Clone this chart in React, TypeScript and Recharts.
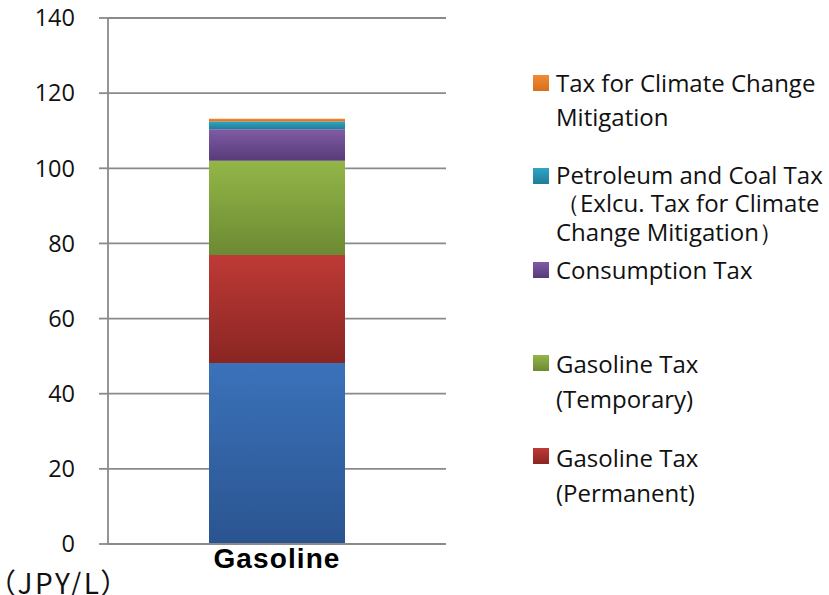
import React from 'react';
import { BarChart, Bar, XAxis, YAxis, CartesianGrid, Legend } from 'recharts';

const categories = ['Gasoline'];
const basePrice = [48.2];
const gasolinePermanent = [28.7];
const gasolineTemporary = [25.1];
const consumptionTax = [8.4];
const petroleumCoalTax = [2.04];
const climateTax = [0.76];
const yTicks = [0, 20, 40, 60, 80, 100, 120, 140];
const unitLabel = '（JPY/L）';

const series = [
  { key: 'base', name: 'Price excl. Tax', values: basePrice, top: '#3B72BA', bottom: '#2A5490', legend: null as string[] | null },
  { key: 'perm', name: 'Gasoline Tax (Permanent)', values: gasolinePermanent, top: '#BE3A36', bottom: '#8A2522', legend: ['Gasoline Tax', '(Permanent)'] },
  { key: 'temp', name: 'Gasoline Tax (Temporary)', values: gasolineTemporary, top: '#93B648', bottom: '#6C8A33', legend: ['Gasoline Tax', '(Temporary)'] },
  { key: 'cons', name: 'Consumption Tax', values: consumptionTax, top: '#7F5BA5', bottom: '#573B78', legend: ['Consumption Tax'] },
  { key: 'petr', name: 'Petroleum and Coal Tax（Exlcu. Tax for Climate Change Mitigation）', values: petroleumCoalTax, top: '#2FA5C6', bottom: '#217C96', legend: ['Petroleum and Coal Tax', '（Exlcu. Tax for Climate', 'Change Mitigation）'] },
  { key: 'clim', name: 'Tax for Climate Change Mitigation', values: climateTax, top: '#F38B35', bottom: '#D5701C', legend: ['Tax for Climate Change', 'Mitigation'] },
];

const data = categories.map((c, i) => {
  const row: Record<string, any> = { name: c };
  series.forEach((s) => { row[s.key] = s.values[i]; });
  return row;
});

// legend layout (style only): order top-to-bottom, swatch top, first line center, line height
const legendOrder = ['clim', 'petr', 'cons', 'temp', 'perm'];
const legendPos: Record<string, { sw: number; c: number; lh: number }> = {
  clim: { sw: 75, c: 83, lh: 34 },
  petr: { sw: 168, c: 175, lh: 28.5 },
  cons: { sw: 262, c: 270, lh: 30 },
  temp: { sw: 355, c: 363, lh: 35 },
  perm: { sw: 448, c: 457, lh: 35 },
};

const GRID = '#8a8a8a';
const FONT = '"Open Sans", "Noto Sans", sans-serif';

const LegendContent = () => (
  <div style={{ position: 'relative', width: 0, height: 0 }}>
    {legendOrder.map((k) => {
      const s = series.find((x) => x.key === k)!;
      const p = legendPos[k];
      return (
        <React.Fragment key={k}>
          <div
            style={{
              position: 'absolute', left: 533, top: p.sw, width: 16, height: 16,
              background: `linear-gradient(${s.top}, ${s.bottom})`,
            }}
          />
          <div
            style={{
              position: 'absolute', left: 556, top: p.c - p.lh / 2, whiteSpace: 'nowrap',
              fontFamily: FONT, fontSize: 24, lineHeight: `${p.lh}px`, color: '#111',
            }}
          >
            {(s.legend || []).map((l, i) => (<div key={i}>{l}</div>))}
          </div>
        </React.Fragment>
      );
    })}
    <div
      style={{
        position: 'absolute', left: 1, top: 570, whiteSpace: 'nowrap',
        fontFamily: '"Noto Sans CJK JP", sans-serif', fontSize: 28, lineHeight: '24px',
        letterSpacing: 2.5, fontFeatureSettings: '"palt"', color: '#111',
      }}
    >
      {unitLabel}
    </div>
  </div>
);

const XTick = (props: any) => {
  const { x, y, payload } = props;
  return (
    <text x={x} y={y + 24} textAnchor="middle" fontFamily='"Liberation Sans", Arial, sans-serif'
      fontWeight="bold" fontSize={28} letterSpacing={1.1} fill="#000">
      {payload.value}
    </text>
  );
};

export default function App() {
  return (
    <div style={{ position: 'absolute', left: 0, top: 0, width: 829, height: 595, background: '#fff', overflow: 'hidden' }}>
      <BarChart width={829} height={595} data={data} margin={{ top: 18, right: 383, bottom: 0, left: 0 }}>
        <defs>
          {series.map((s) => (
            <linearGradient key={s.key} id={`g-${s.key}`} x1="0" y1="0" x2="0" y2="1">
              <stop offset="0%" stopColor={s.top} />
              <stop offset="100%" stopColor={s.bottom} />
            </linearGradient>
          ))}
        </defs>
        <CartesianGrid vertical={false} stroke={GRID} strokeWidth={1.8} />
        <XAxis dataKey="name" height={51} tickLine={false} axisLine={{ stroke: GRID, strokeWidth: 1.8 }}
          tickSize={0} tickMargin={0} tick={<XTick />} interval={0} />
        <YAxis width={108} domain={[0, 140]} ticks={yTicks} interval={0}
          axisLine={{ stroke: GRID, strokeWidth: 1.8 }} tickLine={{ stroke: GRID, strokeWidth: 1.8 }}
          tickSize={9} tickMargin={24}
          tick={{ fontFamily: FONT, fontSize: 23.5, fill: '#111' }} />
        <Legend content={<LegendContent />}
          wrapperStyle={{ position: 'absolute', left: 0, top: 0, width: 0, height: 0 }} />
        {series.map((s) => (
          <Bar key={s.key} dataKey={s.key} name={s.name} stackId="a" barSize={136}
            fill={`url(#g-${s.key})`} isAnimationActive={false} />
        ))}
      </BarChart>
    </div>
  );
}
